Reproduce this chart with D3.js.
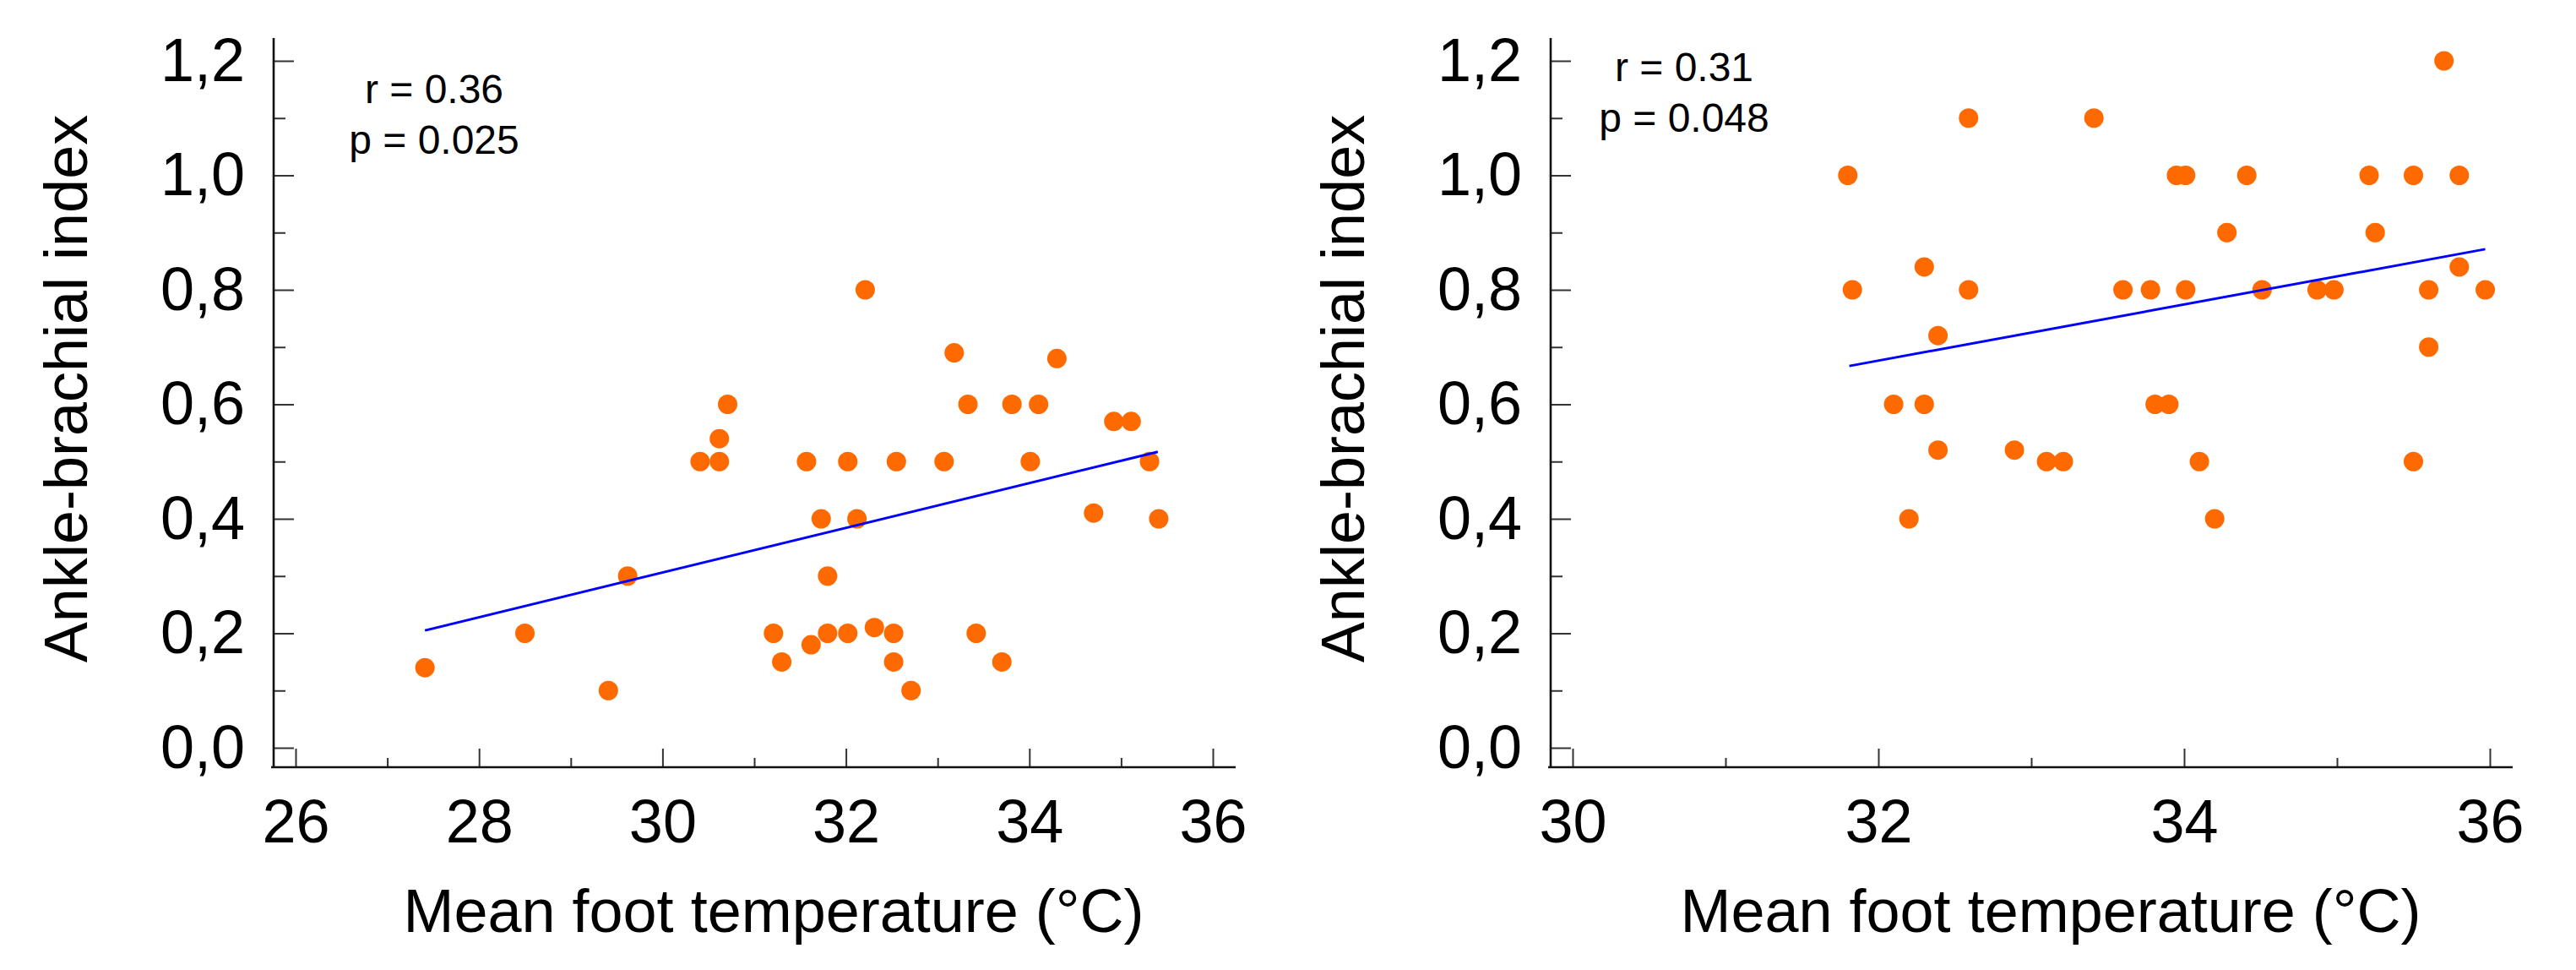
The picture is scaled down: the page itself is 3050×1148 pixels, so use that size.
<!DOCTYPE html>
<html>
<head>
<meta charset="utf-8">
<script src="https://cdn.jsdelivr.net/npm/d3@7"></script>
<style>
  body { margin: 0; background: #fff; }
  svg text { font-family: "Liberation Sans", Arial, sans-serif; fill: #000; }
</style>
</head>
<body>
<svg id="chart"></svg>
<script>
// Values
const yTickValues = [0, 0.2, 0.4, 0.6, 0.8, 1.0, 1.2];
const yMinorTicks = [0.1, 0.3, 0.5, 0.7, 0.9, 1.1];
const yTitle = 'Ankle-brachial index';
const xTitle = 'Mean foot temperature (°C)';

const leftXTicks = [26, 28, 30, 32, 34, 36];
const leftXMinor = [27, 29, 31, 33, 35];
const leftTemp = [27.41, 28.50, 29.41, 29.62, 30.41, 30.62, 30.62, 30.71, 31.21, 31.30,
  31.57, 31.62, 31.73, 31.80, 31.80, 32.02, 32.02, 32.12, 32.21, 32.31,
  32.52, 32.52, 32.55, 32.71, 33.07, 33.18, 33.33, 33.42, 33.70, 33.81,
  34.01, 34.10, 34.30, 34.70, 34.92, 35.11, 35.31, 35.41];
const leftAbi = [0.14, 0.20, 0.10, 0.30, 0.50, 0.50, 0.54, 0.60, 0.20, 0.15,
  0.50, 0.18, 0.40, 0.30, 0.20, 0.20, 0.50, 0.40, 0.80, 0.21,
  0.20, 0.15, 0.50, 0.10, 0.50, 0.69, 0.60, 0.20, 0.15, 0.60,
  0.50, 0.60, 0.68, 0.41, 0.57, 0.57, 0.50, 0.40];
const leftFitX = [27.41, 35.40];
const leftFitY = [0.205, 0.517];
const leftStats = ['r = 0.36', 'p = 0.025'];

const rightXTicks = [30, 32, 34, 36];
const rightXMinor = [31, 33, 35];
const rightTemp = [31.80, 31.83, 32.10, 32.20, 32.30, 32.30, 32.39, 32.39, 32.59, 32.59,
  32.89, 33.10, 33.21, 33.41, 33.60, 33.78, 33.81, 33.90, 33.95, 34.01,
  34.01, 34.10, 34.20, 34.28, 34.41, 34.51, 34.87, 34.98, 35.21, 35.25,
  35.50, 35.50, 35.60, 35.60, 35.70, 35.80, 35.80, 35.97];
const rightAbi = [1.00, 0.80, 0.60, 0.40, 0.84, 0.60, 0.72, 0.52, 1.10, 0.80,
  0.52, 0.50, 0.50, 1.10, 0.80, 0.80, 0.60, 0.60, 1.00, 1.00,
  0.80, 0.50, 0.40, 0.90, 1.00, 0.80, 0.80, 0.80, 1.00, 0.90,
  1.00, 0.50, 0.80, 0.70, 1.20, 1.00, 0.84, 0.80];
const rightFitX = [31.81, 35.97];
const rightFitY = [0.667, 0.871];
const rightStats = ['r = 0.31', 'p = 0.048'];

class Scatterplot {
  constructor(_config, _data) {
    this.config = _config;
    this.data = _data;
    this.initVis();
  }

  initVis() {
    let vis = this;
    const c = vis.config;

    vis.xScale = d3.scaleLinear().domain(c.xDomain).range(c.xRange);
    vis.yScale = d3.scaleLinear().domain([0, 1.2]).range([885, 72]);

    vis.g = d3.select('#chart').append('g');

    // axes are offset: the lines run past the first tick like in the original
    const axisY = 908;
    const axisX = c.axisX;

    // y axis: ticks point inwards, labels on the left
    vis.g.append('g')
      .attr('transform', `translate(${axisX},0)`)
      .call(d3.axisLeft(vis.yScale).tickValues(yMinorTicks).tickSize(-14).tickFormat(''))
      .call(g => g.select('.domain').remove());

    vis.g.append('g')
      .attr('transform', `translate(${axisX},0)`)
      .call(d3.axisLeft(vis.yScale)
        .tickValues(yTickValues)
        .tickSize(-24)
        .tickPadding(34)
        .tickFormat(d => d3.format('.1f')(d).replace('.', ',')))
      .call(g => g.select('.domain').remove())
      .call(g => g.selectAll('text').attr('font-size', 72).attr('dy', '0.32em'));

    // x axis
    vis.g.append('g')
      .attr('transform', `translate(0,${axisY})`)
      .call(d3.axisBottom(vis.xScale).tickValues(c.xMinor).tickSize(-11).tickFormat(''))
      .call(g => g.select('.domain').remove());

    vis.g.append('g')
      .attr('transform', `translate(0,${axisY})`)
      .call(d3.axisBottom(vis.xScale).tickValues(c.xTicks).tickSize(-22).tickFormat(d3.format('d')))
      .call(g => g.select('.domain').remove())
      .call(g => g.selectAll('text').attr('font-size', 72).attr('y', 89).attr('dy', 0));

    vis.g.selectAll('.tick line').attr('stroke', '#333').attr('stroke-width', 2);

    // axis lines
    vis.g.append('line')
      .attr('x1', axisX).attr('x2', axisX)
      .attr('y1', 45).attr('y2', axisY + 1)
      .attr('stroke', '#111').attr('stroke-width', 2.6);
    vis.g.append('line')
      .attr('x1', axisX - 3).attr('x2', c.xRange[1] + 27)
      .attr('y1', axisY).attr('y2', axisY)
      .attr('stroke', '#111').attr('stroke-width', 2.6);

    // titles
    vis.g.append('text')
      .attr('transform', `translate(${axisX - 221},460) rotate(-90)`)
      .attr('text-anchor', 'middle')
      .attr('font-size', 72)
      .text(yTitle);

    vis.g.append('text')
      .attr('x', (c.xRange[0] + c.xRange[1]) / 2 + 23)
      .attr('y', 1103)
      .attr('text-anchor', 'middle')
      .attr('font-size', 72)
      .text(xTitle);

    vis.g.selectAll('.stat')
      .data(c.stats)
      .join('text')
      .attr('class', 'stat')
      .attr('x', c.statX)
      .attr('y', (d, i) => c.statY + i * 60)
      .attr('text-anchor', 'middle')
      .attr('font-size', 48)
      .text(d => d);

    vis.renderVis();
  }

  renderVis() {
    let vis = this;
    const d = vis.data;
    const points = d.x.map((x, i) => ({ x: x, y: d.y[i] }));

    vis.g.append('g').selectAll('.point')
      .data(points)
      .join('circle')
      .attr('class', 'point')
      .attr('cx', p => vis.xScale(p.x))
      .attr('cy', p => vis.yScale(p.y))
      .attr('r', 11.5)
      .attr('fill', '#ff6a00');

    const fit = d.fitX.map((x, i) => [x, d.fitY[i]]);
    vis.g.append('path')
      .datum(fit)
      .attr('fill', 'none')
      .attr('stroke', '#0000ff')
      .attr('stroke-width', 3)
      .attr('d', d3.line().x(p => vis.xScale(p[0])).y(p => vis.yScale(p[1])));
  }
}

d3.select('#chart').attr('width', 3050).attr('height', 1148);

new Scatterplot({
  xDomain: [26, 36], xRange: [350, 1436], axisX: 324,
  xTicks: leftXTicks, xMinor: leftXMinor,
  stats: leftStats, statX: 514, statY: 122
}, { x: leftTemp, y: leftAbi, fitX: leftFitX, fitY: leftFitY });

new Scatterplot({
  xDomain: [30, 36], xRange: [1862, 2948], axisX: 1836,
  xTicks: rightXTicks, xMinor: rightXMinor,
  stats: rightStats, statX: 1994, statY: 96
}, { x: rightTemp, y: rightAbi, fitX: rightFitX, fitY: rightFitY });
</script>
</body>
</html>
